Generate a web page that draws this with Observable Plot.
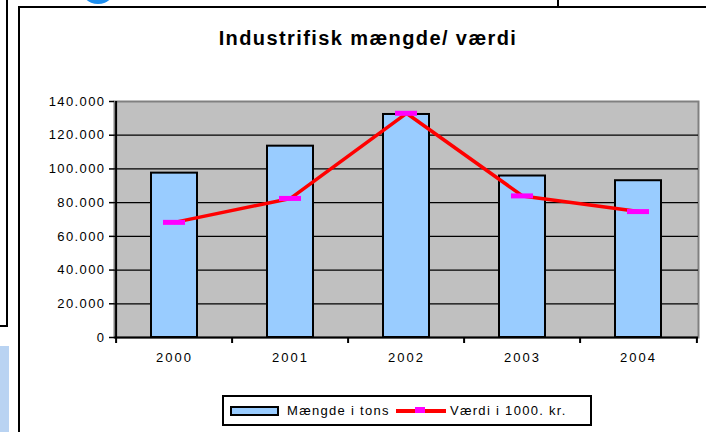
<!DOCTYPE html>
<html><head><meta charset="utf-8">
<script src="https://cdn.jsdelivr.net/npm/d3@7"></script>
<script src="https://cdn.jsdelivr.net/npm/@observablehq/plot@0.6"></script>
<style>
body{margin:0;background:#fff;}
#wrap{position:relative;width:706px;height:432px;overflow:hidden;font-family:Arial,"Liberation Sans",sans-serif;background:#fff;}
#chart{position:absolute;left:0;top:0;}
.deco{position:absolute;box-sizing:border-box;}
#title{position:absolute;left:0;width:736px;top:28px;text-align:center;font-weight:bold;font-size:20px;line-height:20px;letter-spacing:1.4px;color:#000;}
#legend{position:absolute;left:222px;top:395px;width:370px;height:31px;box-sizing:border-box;border:2px solid #000;background:#fff;display:flex;align-items:center;font-size:13px;letter-spacing:1.3px;color:#000;}
#legend .sw{width:49px;height:10px;box-sizing:border-box;border:2px solid #000;background:#99ccff;margin-left:6px;margin-right:8px;}
#legend .ln{position:relative;width:50px;height:4px;background:#ff0000;margin-left:6px;margin-right:4px;}
#legend .ln i{position:absolute;left:19px;top:-2px;width:10px;height:6px;background:#ff00ff;}
#chart g[aria-label="y-axis tick label"]{letter-spacing:1.4px;}
#chart g[aria-label="x-axis tick label"]{letter-spacing:2px;}
</style></head><body>
<div id="wrap">
  <div id="chart"></div>
  <div class="deco" style="left:-4px;top:-4px;width:12px;height:331px;border-right:2px solid #000;border-bottom:2px solid #000;"></div>
  <div class="deco" style="left:0;top:346px;width:9px;height:90px;background:#b9d3f2;"></div>
  <div class="deco" style="left:80px;top:-32px;width:36px;height:36px;border-radius:50%;background:#1e8ff0;"></div>
  <div class="deco" style="left:18px;top:6px;width:700px;height:440px;border-left:2px solid #000;border-top:2px solid #000;"></div>
  <div class="deco" style="left:557px;top:-2px;width:2px;height:9px;background:#000;"></div>
  <div id="title"></div>
  <div id="legend"></div>
</div>
<script>
const title = "Industrifisk mængde/ værdi";
const years = ["2000", "2001", "2002", "2003", "2004"];
const tons = [97500, 113500, 132300, 95800, 93000];
const kroner = [68300, 82500, 133000, 84000, 74700];
const yTicks = [0, 20000, 40000, 60000, 80000, 100000, 120000, 140000];
const seriesNames = ["Mængde i tons", "Værdi i 1000. kr."];

document.getElementById("title").textContent = title;
document.getElementById("legend").innerHTML =
  '<span class="sw"></span><span>' + seriesNames[0] + '</span>' +
  '<span class="ln"><i></i></span><span>' + seriesNames[1] + '</span>';

const W = 706, H = 432, mL = 114, mR = 8, mT = 101, mB = 95;
const step = (W - mL - mR) / years.length;
const fmt = d3.formatLocale({decimal: ",", thousands: ".", grouping: [3], currency: ["", ""]}).format(",.0f");
const rows = years.map((y, i) => ({year: y, tons: tons[i], kr: kroner[i]}));
const yMax = d3.max(yTicks);
const grid = yTicks.filter(t => t > 0 && t < yMax);

const plot = Plot.plot({
  width: W, height: H,
  marginLeft: mL, marginRight: mR, marginTop: mT, marginBottom: mB,
  style: {background: "transparent", fontFamily: "Arial, 'Liberation Sans', sans-serif", color: "#000", overflow: "visible"},
  x: {type: "band", domain: years, paddingInner: 0.6, paddingOuter: 0.3, label: null},
  y: {domain: [0, yMax], label: null},
  marks: [
    Plot.frame({fill: "#c0c0c0", stroke: "#808080", strokeWidth: 2}),
    Plot.ruleY(grid, {stroke: "#000", strokeWidth: 1.2}),
    Plot.barY(rows, {x: "year", y: "tons", fill: "#99ccff", stroke: "#000", strokeWidth: 2}),
    Plot.lineY(rows, {x: "year", y: "kr", stroke: "#ff0000", strokeWidth: 3.5}),
    Plot.tickY(rows, {x: "year", y: "kr", stroke: "#ff00ff", strokeWidth: 5, insetLeft: 12, insetRight: 12}),
    Plot.ruleY([0], {stroke: "#000", strokeWidth: 2}),
    Plot.ruleX(years.slice(0, 1), {x: d => d, dx: -step / 2, stroke: "#000", strokeWidth: 2}),
    Plot.ruleX(years, {x: d => d, y1: 0, y2: 0, insetBottom: -6, dx: -step / 2, stroke: "#000", strokeWidth: 2}),
    Plot.ruleX(years.slice(-1), {x: d => d, y1: 0, y2: 0, insetBottom: -6, dx: step / 2, stroke: "#000", strokeWidth: 2}),
    Plot.axisY({ticks: yTicks, tickFormat: fmt, tickSize: 5, tickPadding: 4, fontSize: 13, strokeWidth: 1.5, label: null}),
    Plot.axisX({tickSize: 0, tickPadding: 15, fontSize: 13, label: null})
  ]
});
document.getElementById("chart").appendChild(plot);
</script>
</body></html>
